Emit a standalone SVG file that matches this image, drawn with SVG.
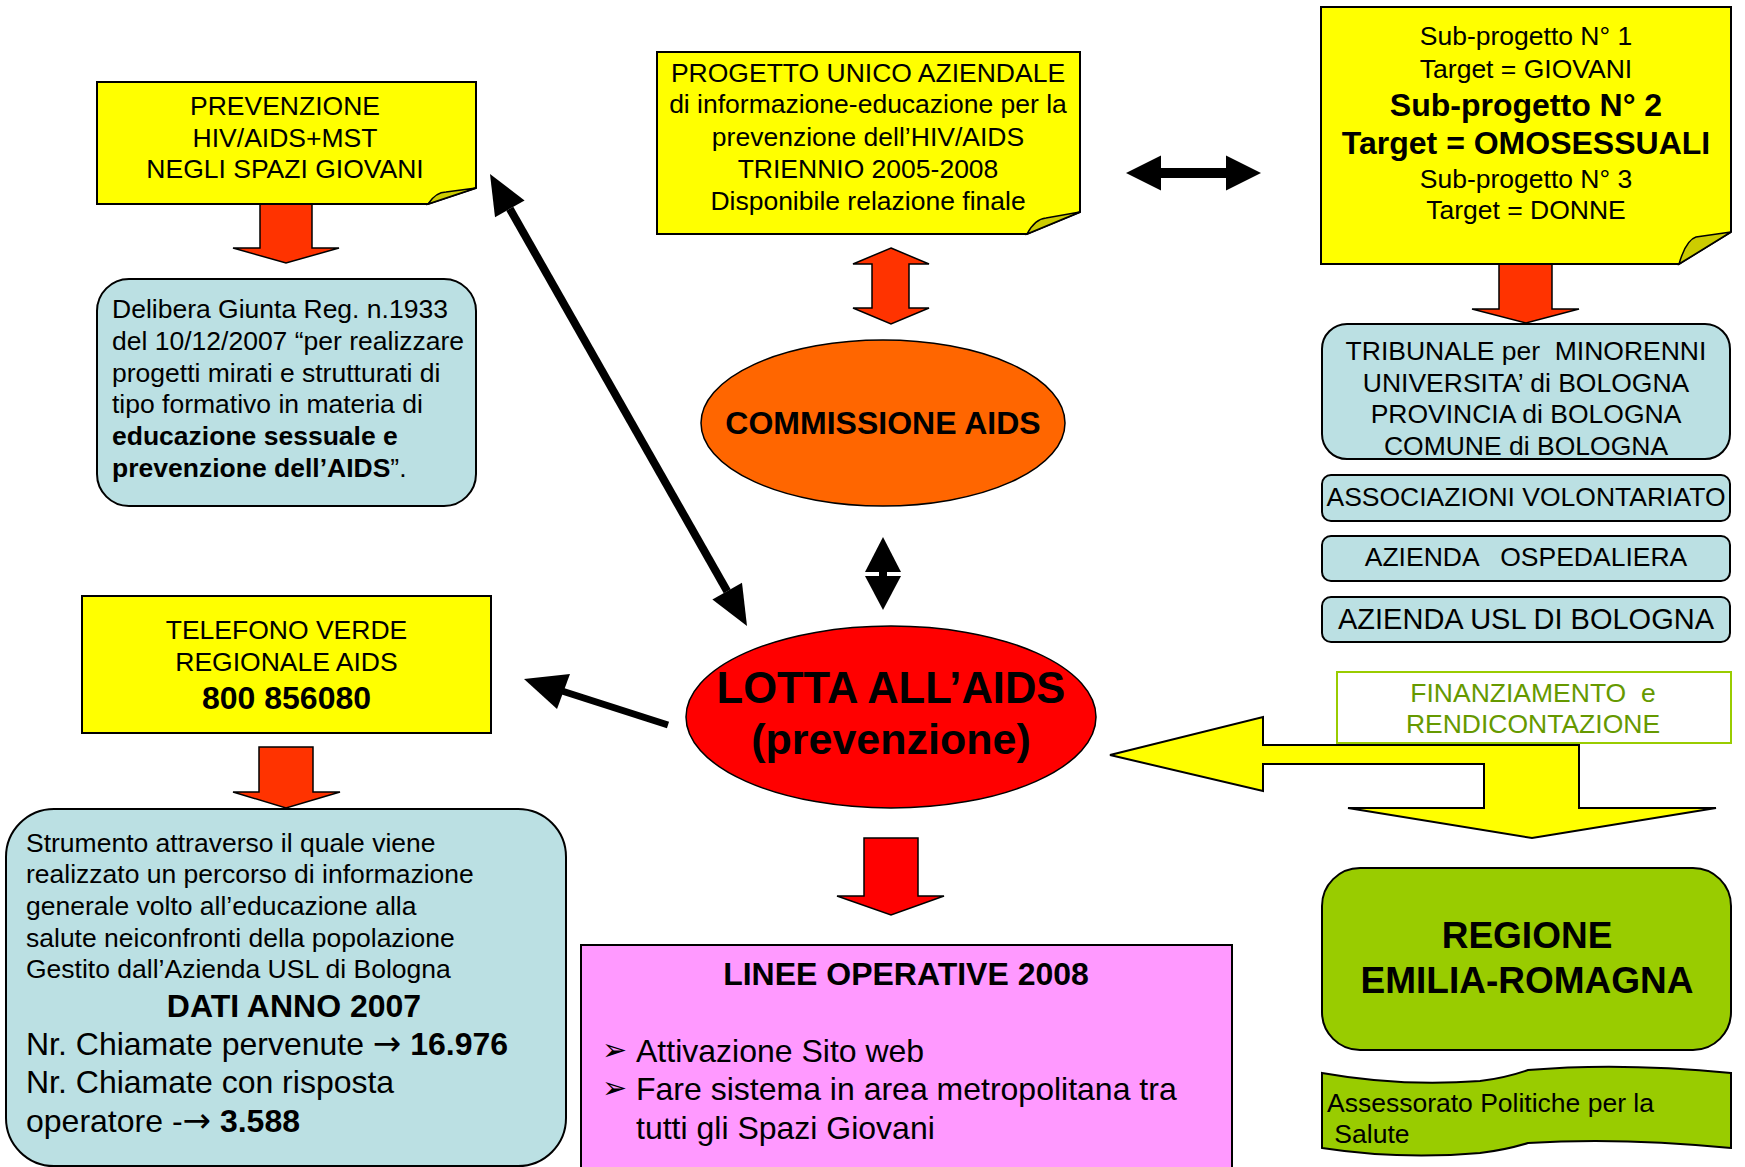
<svg xmlns="http://www.w3.org/2000/svg" width="1745" height="1167" viewBox="0 0 1745 1167">
<style>
text{font-family:"Liberation Sans",Arial,sans-serif;fill:#000;}
.t{font-size:26.5px;}
.c{text-anchor:middle;}
.b{font-weight:bold;}
.pre{white-space:pre;}
.ar{font-family:"DejaVu Sans",sans-serif;}
.note{fill:#ffff00;stroke:#000;stroke-width:2;}
.flap{fill:#cccc00;stroke:#000;stroke-width:1.5;}
.blue{fill:#bbe0e3;stroke:#000;stroke-width:2;}
.red{fill:#ff3300;stroke:#000;stroke-width:1.5;}
.blk{fill:#000;stroke:none;}
.ln{stroke:#000;stroke-width:8;fill:none;}
</style>
<rect width="1745" height="1167" fill="#fff"/>

<g id="connectors">
  <!-- diagonal double arrow -->
  <line class="ln" x1="509.8" y1="208.8" x2="727.2" y2="591.2"/>
  <polygon class="blk" points="490,174 524.6,200.4 495,217.2"/>
  <polygon class="blk" points="747,626 712.4,599.6 742,582.8"/>
  <!-- arrow to telefono -->
  <line class="ln" x1="562" y1="691" x2="668" y2="725" style="stroke-width:7"/>
  <polygon class="blk" points="524,679 570,674 557,709"/>
  <!-- horizontal double arrow -->
  <polygon class="blk" points="1126,173 1161,155.5 1161,168 1226,168 1226,155.5 1261,173 1226,190.5 1226,178 1161,178 1161,190.5"/>
  <!-- vertical small double arrow -->
  <polygon class="blk" points="883,537 901,572 865,572"/>
  <rect class="blk" x="879" y="571" width="8" height="6"/>
  <polygon class="blk" points="865,576 901,576 883,610"/>
  <!-- red block arrows -->
  <polygon class="red" points="260,204 312,204 312,248 339,248 286,263 233,248 260,248"/>
  <polygon class="red" points="259,747 313,747 313,792 340,792 286,808 233,792 259,792"/>
  <polygon class="red" points="1499,264 1552,264 1552,309 1579,309 1526,323 1472,309 1499,309"/>
  <polygon class="red" points="891,248 929,264 909,264 909,308 929,308 891,324 853,308 872,308 872,264 853,264"/>
  <polygon class="red" style="fill:#ff0000" points="864,838 918,838 918,896 944,896 891,915 837,896 864,896"/>
  <!-- yellow bent double arrow -->
  <polygon points="1110,755 1263,717 1263,745 1579,745 1579,808 1716,808 1532,838 1348,808 1484,808 1484,764 1263,764 1263,791" fill="#ffff00" stroke="#000" stroke-width="2"/>
</g>

<g id="prevenzione">
  <path class="note" d="M97,82 H476 V188 L428,204 H97 Z"/>
  <path class="flap" d="M428,204 Q436,192 446,192 L476,188 Z"/>
  <text class="t c" x="285" y="115">PREVENZIONE</text>
  <text class="t c" x="285" y="147">HIV/AIDS+MST</text>
  <text class="t c" x="285" y="178">NEGLI SPAZI GIOVANI</text>
</g>

<g id="delibera">
  <rect class="blue" x="97" y="279" width="379" height="227" rx="32"/>
  <text class="t" x="112" y="318">Delibera Giunta Reg. n.1933</text>
  <text class="t" x="112" y="350">del 10/12/2007 “per realizzare</text>
  <text class="t" x="112" y="382">progetti mirati e strutturati di</text>
  <text class="t" x="112" y="413">tipo formativo in materia di</text>
  <text class="t b" x="112" y="445">educazione sessuale e</text>
  <text class="t" x="112" y="477"><tspan class="b">prevenzione dell’AIDS</tspan>”.</text>
</g>

<g id="progetto">
  <path class="note" d="M657,52 H1080 V212 L1027,234 H657 Z"/>
  <path class="flap" d="M1027,234 Q1035,219 1046,218 L1080,212 Z"/>
  <text class="t c" x="868" y="82">PROGETTO UNICO AZIENDALE</text>
  <text class="t c" x="868" y="113">di informazione-educazione per la</text>
  <text class="t c" x="868" y="146">prevenzione dell’HIV/AIDS</text>
  <text class="t c" x="868" y="178">TRIENNIO 2005-2008</text>
  <text class="t c" x="868" y="210">Disponibile relazione finale</text>
</g>

<g id="subprogetto">
  <path class="note" d="M1321,7 H1731 V232 L1679,264 H1321 Z"/>
  <path class="flap" d="M1679,264 Q1686,240 1696,237 L1731,232 Z"/>
  <text class="t c" x="1526" y="45">Sub-progetto N° 1</text>
  <text class="t c" x="1526" y="78">Target = GIOVANI</text>
  <text class="c b" x="1526" y="116" font-size="32">Sub-progetto N° 2</text>
  <text class="c b" x="1526" y="154" font-size="32">Target = OMOSESSUALI</text>
  <text class="t c" x="1526" y="188">Sub-progetto N° 3</text>
  <text class="t c" x="1526" y="219">Target = DONNE</text>
</g>

<g id="commissione">
  <ellipse cx="883" cy="423" rx="182" ry="83" fill="#ff6600" stroke="#000" stroke-width="1.5"/>
  <text class="c b" x="883" y="434" font-size="32">COMMISSIONE AIDS</text>
</g>

<g id="lotta">
  <ellipse cx="891" cy="717" rx="205" ry="91" fill="#ff0000" stroke="#000" stroke-width="1.5"/>
  <text class="c b" x="891" y="703" font-size="43.5">LOTTA ALL’AIDS</text>
  <text class="c b" x="891" y="754" font-size="43">(prevenzione)</text>
</g>

<g id="tribunale">
  <rect class="blue" x="1322" y="324" width="408" height="135" rx="25"/>
  <text class="t c pre" x="1526" y="360">TRIBUNALE per  MINORENNI</text>
  <text class="t c" x="1526" y="392">UNIVERSITA’ di BOLOGNA</text>
  <text class="t c" x="1526" y="423">PROVINCIA di BOLOGNA</text>
  <text class="t c" x="1526" y="455">COMUNE di BOLOGNA</text>
</g>

<g id="associazioni">
  <rect class="blue" x="1322" y="475" width="408" height="46" rx="9"/>
  <text class="t c" x="1526" y="506">ASSOCIAZIONI VOLONTARIATO</text>
</g>

<g id="ospedaliera">
  <rect class="blue" x="1322" y="536" width="408" height="45" rx="9"/>
  <text class="t c pre" x="1526" y="566">AZIENDA   OSPEDALIERA</text>
</g>

<g id="usl">
  <rect class="blue" x="1322" y="597" width="408" height="45" rx="9"/>
  <text class="c" x="1526" y="629" font-size="29">AZIENDA USL DI BOLOGNA</text>
</g>

<g id="finanziamento">
  <rect x="1337" y="672" width="394" height="71" fill="#fff" stroke="#99cc00" stroke-width="2"/>
  <text class="t c pre" x="1533" y="702" style="fill:#669900">FINANZIAMENTO  e</text>
  <text class="t c" x="1533" y="733" style="fill:#669900">RENDICONTAZIONE</text>
</g>

<g id="telefono">
  <rect x="82" y="596" width="409" height="137" fill="#ffff00" stroke="#000" stroke-width="2"/>
  <text class="t c" x="286.5" y="639">TELEFONO VERDE</text>
  <text class="t c" x="286.5" y="671">REGIONALE AIDS</text>
  <text class="c b" x="286.5" y="709" font-size="32">800 856080</text>
</g>

<g id="strumento">
  <rect class="blue" x="6" y="809" width="560" height="357" rx="48"/>
  <text class="t" x="26" y="852">Strumento attraverso il quale viene</text>
  <text class="t" x="26" y="883">realizzato un percorso di informazione</text>
  <text class="t" x="26" y="915">generale volto all’educazione alla</text>
  <text class="t" x="26" y="947">salute neiconfronti della popolazione</text>
  <text class="t" x="26" y="978">Gestito dall’Azienda USL di Bologna</text>
  <text class="c b" x="294" y="1017" font-size="32">DATI ANNO 2007</text>
  <text x="26" y="1055" font-size="32">Nr. Chiamate pervenute <tspan class="ar" font-size="34">→</tspan> <tspan class="b">16.976</tspan></text>
  <text x="26" y="1093" font-size="32">Nr. Chiamate con risposta</text>
  <text x="26" y="1132" font-size="32">operatore -<tspan class="ar" font-size="34">→</tspan> <tspan class="b">3.588</tspan></text>
</g>

<g id="linee">
  <rect x="581" y="945" width="651" height="240" fill="#ff99ff" stroke="#000" stroke-width="2"/>
  <text class="c b" x="906" y="985" font-size="32">LINEE OPERATIVE 2008</text>
  <text class="ar" x="602" y="1060" font-size="30">➢</text>
  <text x="636" y="1062" font-size="32">Attivazione Sito web</text>
  <text class="ar" x="602" y="1098" font-size="30">➢</text>
  <text x="636" y="1100" font-size="32">Fare sistema in area metropolitana tra</text>
  <text x="636" y="1139" font-size="32">tutti gli Spazi Giovani</text>
</g>

<g id="regione">
  <rect x="1322" y="868" width="409" height="182" rx="38" fill="#99cc00" stroke="#000" stroke-width="2"/>
  <text class="c b" x="1527" y="948" font-size="37">REGIONE</text>
  <text class="c b" x="1527" y="993" font-size="37">EMILIA-ROMAGNA</text>
</g>

<g id="assessorato">
  <path d="M1322,1073 Q1400,1087 1480,1081 Q1505,1078 1528,1070 Q1620,1062 1731,1073 L1731,1148 Q1620,1137 1528,1143 Q1505,1150 1480,1153 Q1400,1160 1322,1148 Z" fill="#99cc00" stroke="#000" stroke-width="2"/>
  <text class="t" x="1327" y="1112">Assessorato Politiche per la</text>
  <text class="t pre" x="1327" y="1143"> Salute</text>
</g>
</svg>
